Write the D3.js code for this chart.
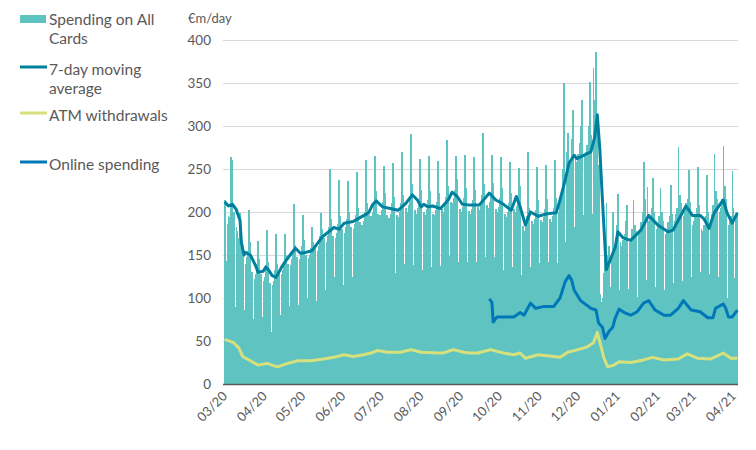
<!DOCTYPE html>
<html>
<head>
<meta charset="utf-8">
<script src="https://cdn.jsdelivr.net/npm/d3@7"></script>
<style>
  body { margin: 0; background: #fff; }
  svg { display: block; font-family: Lato, "Open Sans", sans-serif; }
  .grid line { stroke: #d9d9d9; stroke-width: 1; }
  .tick-label { fill: #595959; font-size: 13.5px; }
  .legend-label { fill: #595959; font-size: 15.5px; }
</style>
</head>
<body>
<div id="chart"></div>
<script>
// daily spending on all cards, EUR m/day, from 1 March 2020
const startDate = new Date(2020, 2, 1)
const spending = [
  214, 143, 186, 195, 194, 264, 260,
  200, 90, 182, 178, 170, 199, 158,
  150, 86, 140, 148, 155, 202, 165,
  130, 76, 122, 128, 140, 166, 145,
  128, 78, 120, 125, 138, 179, 142,
  118, 60, 115, 120, 132, 174, 140,
  130, 80, 128, 133, 142, 175, 150,
  140, 91, 138, 145, 155, 209, 162,
  148, 92, 145, 152, 160, 197, 168,
  150, 100, 146, 150, 158, 183, 165,
  158, 97, 155, 160, 172, 199, 180,
  170, 109, 165, 172, 182, 250, 192,
  172, 125, 170, 176, 186, 237, 195,
  180, 115, 176, 182, 192, 236, 200,
  182, 125, 180, 186, 196, 247, 205,
  188, 130, 185, 190, 200, 261, 210,
  196, 136, 195, 200, 212, 265, 225,
  198, 126, 196, 202, 212, 253, 222,
  196, 130, 193, 198, 210, 257, 218,
  129, 196, 194, 200, 210, 270, 220,
  140, 205, 200, 208, 218, 291, 232,
  138, 202, 198, 205, 215, 262, 226,
  133, 200, 197, 204, 214, 265, 224,
  136, 198, 196, 202, 212, 259, 222,
  137, 203, 200, 207, 218, 284, 230,
  149, 212, 210, 216, 226, 265, 238,
  142, 203, 200, 206, 216, 266, 228,
  142, 201, 198, 204, 214, 264, 226,
  142, 206, 202, 210, 220, 292, 232,
  148, 208, 205, 212, 222, 266, 234,
  148, 204, 200, 206, 216, 264, 228,
  133, 198, 194, 200, 210, 258, 222,
  136, 204, 200, 207, 218, 251, 230,
  127, 184, 178, 185, 195, 270, 205,
  136, 190, 186, 192, 202, 252, 214,
  141, 191, 188, 194, 204, 255, 215,
  142, 192, 188, 195, 205, 260, 216,
  141, 200, 212, 225, 250, 350, 165,
  270, 292, 255, 262, 285, 319, 183,
  262, 258, 268, 280, 300, 330, 196,
  265, 270, 278, 300, 351, 290, 198,
  367, 330, 386, 300, 255, 105, 95,
  100, 129, 145, 210, 150, 160, 113,
  150, 200, 160, 170, 185, 221, 109,
  165, 160, 168, 175, 190, 208, 111,
  165, 170, 180, 214, 185, 178, 101,
  175, 180, 188, 200, 258, 215, 121,
  229, 190, 195, 205, 240, 200, 113,
  180, 185, 195, 228, 200, 190, 109,
  175, 180, 188, 195, 231, 198, 117,
  190, 198, 205, 276, 220, 210, 120,
  195, 200, 210, 215, 249, 212, 125,
  185, 190, 198, 205, 252, 208, 130,
  180, 178, 185, 195, 243, 200, 128,
  190, 198, 208, 267, 225, 215, 125,
  200, 205, 215, 277, 230, 215, 100,
  185, 190, 195, 248, 205, 123, 195,
  200
]

// [day since 1 March 2020, value]
const movingAverage = [
  [0, 212], [3, 207], [6, 209], [9, 203], [12, 190], [13, 165], [15, 150], [16, 153],
  [20, 150], [24, 138], [26, 130], [30, 131], [32, 136], [34, 133], [37, 126], [40, 124],
  [44, 135], [47, 142], [51, 150], [55, 158], [59, 152], [63, 153], [68, 155], [72, 163],
  [76, 171], [81, 177], [85, 182], [89, 180], [93, 187], [100, 189], [106, 194], [112, 199],
  [115, 208], [118, 213], [120, 210], [123, 206], [129, 204], [135, 202], [141, 210], [146, 220],
  [150, 214], [153, 206], [155, 209], [158, 206], [162, 207], [168, 204], [174, 214], [177, 223],
  [181, 218], [185, 209], [191, 208], [198, 208], [202, 215], [206, 222], [211, 214], [216, 210],
  [223, 202], [227, 218], [230, 206], [234, 185], [238, 200], [244, 195], [251, 198], [258, 199],
  [261, 214], [265, 237], [268, 257], [272, 266], [274, 262], [277, 264], [285, 270], [288, 287],
  [290, 313], [292, 272], [294, 214], [297, 133], [300, 144], [304, 159], [306, 177], [310, 170],
  [316, 167], [324, 179], [330, 196], [337, 185], [345, 177], [349, 179], [359, 207], [364, 196],
  [370, 196], [373, 192], [377, 181], [381, 199], [388, 214], [391, 199], [395, 187], [399, 199]
]

const atmWithdrawals = [
  [0, 52], [7, 48], [11, 42], [14, 32], [20, 27], [26, 22], [33, 24], [41, 20],
  [49, 24], [57, 27], [67, 27], [77, 29], [85, 31], [93, 34], [100, 32], [108, 34],
  [114, 36], [119, 39], [127, 37], [137, 37], [145, 40], [153, 37], [166, 36], [170, 36],
  [178, 40], [186, 37], [191, 36], [197, 36], [207, 40], [217, 36], [225, 34], [230, 36],
  [234, 30], [244, 34], [261, 31], [267, 37], [275, 40], [282, 43], [287, 48], [290, 60],
  [293, 43], [295, 31], [298, 20], [303, 22], [307, 26], [316, 25], [326, 28], [333, 31],
  [342, 28], [353, 29], [360, 35], [368, 30], [378, 29], [388, 36], [394, 30], [399, 30]
]

const onlineSpending = [
  [206, 99], [208, 95], [209, 72], [212, 78], [225, 78], [230, 83], [233, 80], [238, 94],
  [242, 88], [248, 90], [256, 90], [261, 100], [265, 119], [268, 126], [270, 121], [272, 109],
  [277, 97], [285, 88], [289, 86], [291, 71], [294, 66], [296, 53], [299, 61], [302, 66],
  [304, 77], [307, 87], [311, 83], [316, 80], [321, 84], [326, 94], [330, 97], [335, 86],
  [342, 80], [347, 80], [353, 88], [357, 97], [363, 86], [370, 84], [376, 77], [380, 77],
  [382, 88], [388, 93], [390, 88], [392, 78], [395, 78], [399, 86]
]

const yTicks = [0, 50, 100, 150, 200, 250, 300, 350, 400]

const legendItems = [
  { label: ['Spending on All', 'Cards'], kind: 'bar', colour: '#5fc4c1' },
  { label: ['7-day moving', 'average'], kind: 'line', colour: '#00809f' },
  { label: ['ATM withdrawals'], kind: 'line', colour: '#d6e07d' },
  { label: ['Online spending'], kind: 'line', colour: '#0077b8' }
]

const width = 756
const height = 450
const plotLeft = 224
const plotRight = 738
const plotTop = 40
const plotBottom = 384

const dayDate = d => d3.timeDay.offset(startDate, d)

const x = d3.scaleTime()
  .domain([startDate, dayDate(400)])
  .range([plotLeft, plotRight])
const y = d3.scaleLinear()
  .domain([0, 400])
  .range([plotBottom, plotTop])

const svg = d3.select('#chart')
  .append('svg')
  .attr('width', width)
  .attr('height', height)
  .attr('viewBox', [0, 0, width, height])

// gridlines
svg.append('g')
  .attr('class', 'grid')
  .selectAll('line')
  .data(yTicks.filter(t => t > 0))
  .enter()
  .append('line')
  .attr('x1', plotLeft - 1)
  .attr('x2', plotRight)
  .attr('y1', d => Math.round(y(d)) + 0.5)
  .attr('y2', d => Math.round(y(d)) + 0.5)

// bars
const barWidth = x(dayDate(1)) - x(dayDate(0))
svg.append('g')
  .attr('id', 'bars')
  .selectAll('rect')
  .data(spending)
  .enter()
  .append('rect')
  .attr('x', (d, i) => x(dayDate(i)))
  .attr('y', d => y(d))
  .attr('width', barWidth + 0.35)
  .attr('height', d => y(0) - y(d))
  .attr('fill', '#5fc4c1')
  .attr('shape-rendering', 'crispEdges')

const line = d3.line()
  .x(d => x(dayDate(d[0])) + barWidth / 2)
  .y(d => y(d[1]))

svg.append('path')
  .datum(atmWithdrawals)
  .attr('d', line)
  .attr('fill', 'none')
  .attr('stroke', '#d6e07d')
  .attr('stroke-width', 3)
  .attr('stroke-linejoin', 'round')

svg.append('path')
  .datum(movingAverage)
  .attr('d', line)
  .attr('fill', 'none')
  .attr('stroke', '#00809f')
  .attr('stroke-width', 3)
  .attr('stroke-linejoin', 'round')

svg.append('path')
  .datum(onlineSpending)
  .attr('d', line)
  .attr('fill', 'none')
  .attr('stroke', '#0077b8')
  .attr('stroke-width', 3)
  .attr('stroke-linejoin', 'round')

// x axis line
svg.append('line')
  .attr('x1', plotLeft - 1)
  .attr('x2', plotRight)
  .attr('y1', plotBottom + 0.5)
  .attr('y2', plotBottom + 0.5)
  .attr('stroke', '#595959')
  .attr('stroke-width', 1.5)

// y labels
svg.append('g')
  .selectAll('text')
  .data(yTicks)
  .enter()
  .append('text')
  .attr('class', 'tick-label')
  .attr('x', 211)
  .attr('y', d => y(d))
  .attr('dy', '0.35em')
  .attr('text-anchor', 'end')
  .text(d => d)

svg.append('text')
  .attr('class', 'tick-label')
  .attr('x', 188)
  .attr('y', 23)
  .style('font-size', '13px')
  .text('€m/day')

// x labels, one per month
const months = d3.timeMonth.range(startDate, dayDate(401))
const monthFormat = d3.timeFormat('%m/%y')
svg.append('g')
  .selectAll('text')
  .data(months)
  .enter()
  .append('text')
  .attr('class', 'tick-label')
  .attr('text-anchor', 'end')
  .attr('transform', d => `translate(${x(d) + 4}, ${plotBottom + 13}) rotate(-45)`)
  .style('font-size', '13px')
  .text(d => monthFormat(d))

// legend
const legendY = [25, 75, 121, 170]
const legend = svg.append('g').attr('id', 'legend')
legendItems.forEach((item, i) => {
  const g = legend.append('g')
  if (item.kind === 'bar') {
    g.append('rect')
      .attr('x', 20)
      .attr('y', legendY[i] - 10)
      .attr('width', 26)
      .attr('height', 8)
      .attr('fill', item.colour)
  } else {
    g.append('line')
      .attr('x1', 20)
      .attr('x2', 47)
      .attr('y1', legendY[i] - 8)
      .attr('y2', legendY[i] - 8)
      .attr('stroke', item.colour)
      .attr('stroke-width', 3)
  }
  item.label.forEach((t, j) => {
    g.append('text')
      .attr('class', 'legend-label')
      .attr('x', 49)
      .attr('y', legendY[i] + j * 19)
      .text(t)
  })
})
</script>
</body>
</html>
